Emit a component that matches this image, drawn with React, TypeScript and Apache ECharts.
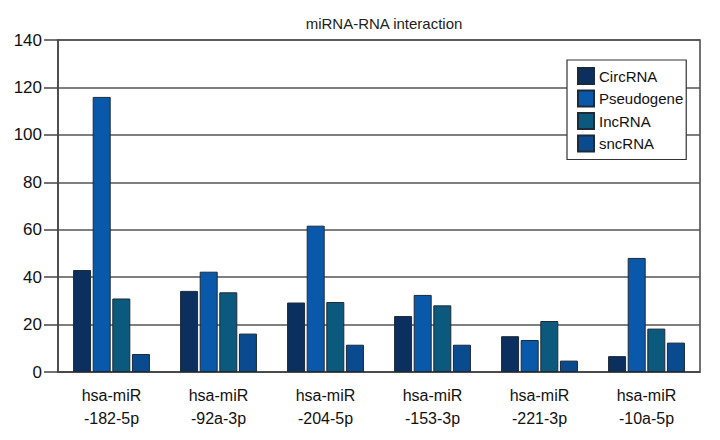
import React, { useEffect, useRef } from "react";
import * as echarts from "echarts";

const categories = [
  "hsa-miR\n-182-5p",
  "hsa-miR\n-92a-3p",
  "hsa-miR\n-204-5p",
  "hsa-miR\n-153-3p",
  "hsa-miR\n-221-3p",
  "hsa-miR\n-10a-5p",
];
const circRNA = [43, 34.2, 29.3, 23.6, 15.1, 6.7];
const pseudogene = [116, 42.3, 61.7, 32.5, 13.5, 48.1];
const lncRNA = [31, 33.6, 29.5, 28.1, 21.5, 18.3];
const sncRNA = [7.6, 16.2, 11.5, 11.5, 4.8, 12.4];
const seriesNames = ["CircRNA", "Pseudogene", "lncRNA", "sncRNA"];
const colors = ["#0b2f5e", "#0a58aa", "#0b5a7e", "#0a4a8e"];

const FONT = '"Liberation Sans", Arial, sans-serif';

export default function App() {
  const ref = useRef<HTMLDivElement>(null);
  useEffect(() => {
    if (!ref.current) return;
    const chart = echarts.init(ref.current, null, { renderer: "svg" });
    const data = [circRNA, pseudogene, lncRNA, sncRNA];
    chart.setOption({
      animation: false,
      backgroundColor: "#ffffff",
      title: {
        text: "miRNA-RNA interaction",
        left: 379,
        textAlign: "center",
        top: 11,
        textStyle: { fontFamily: FONT, fontSize: 15, fontWeight: "normal", color: "#222" },
      },
      legend: {
        orient: "vertical",
        left: 567,
        top: 60,
        padding: [7, 3, 7, 10],
        itemWidth: 16,
        itemHeight: 16,
        itemGap: 4.5,
        borderColor: "#333",
        borderWidth: 1.2,
        backgroundColor: "#fff",
        data: seriesNames.map((n) => ({ name: n, icon: "rect" })),
        formatter: (n: string) => (n === "lncRNA" ? "IncRNA" : n),
        textStyle: { fontFamily: FONT, fontSize: 15, color: "#111", lineHeight: 16 },
      },
      grid: {
        left: 58,
        right: 20,
        top: 40,
        bottom: 68,
        show: true,
        borderColor: "#444",
        borderWidth: 1.5,
      },
      xAxis: {
        type: "category",
        data: categories,
        axisLine: { show: true, lineStyle: { color: "#444", width: 1.5 } },
        axisTick: { show: false },
        axisLabel: {
          interval: 0,
          margin: 12,
          fontFamily: FONT,
          fontSize: 16,
          lineHeight: 23,
          color: "#111",
        },
      },
      yAxis: {
        type: "value",
        min: 0,
        max: 140,
        interval: 20,
        axisLine: { show: true, lineStyle: { color: "#444", width: 1.5 } },
        axisTick: { show: true, length: 14, lineStyle: { color: "#444", width: 1.5 } },
        splitLine: { show: true, lineStyle: { color: "#555", width: 1.5 } },
        axisLabel: { margin: 16, fontFamily: FONT, fontSize: 17, color: "#111" },
      },
      series: seriesNames.map((n, i) => ({
        name: n,
        type: "bar",
        data: data[i],
        barWidth: 18,
        barGap: "9%",
        itemStyle: { color: colors[i], borderColor: "#1d2a38", borderWidth: 1 },
      })),
    });
    return () => chart.dispose();
  }, []);
  return <div ref={ref} style={{ width: 720, height: 440, position: "absolute", left: 0, top: 0 }} />;
}
